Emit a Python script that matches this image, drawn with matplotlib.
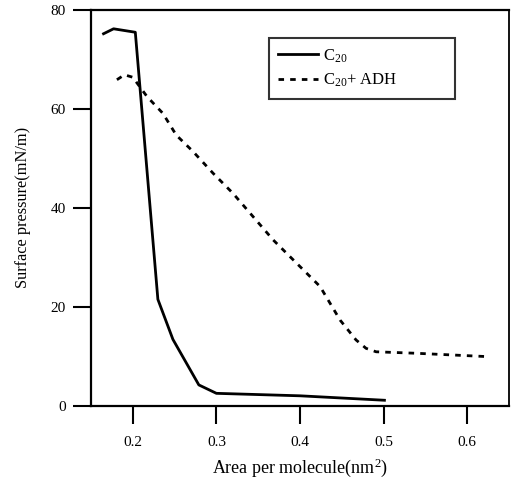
import matplotlib
matplotlib.use("Agg")
import matplotlib.pyplot as plt

plt.rcParams['font.family'] = ['Liberation Serif', 'DejaVu Serif']
plt.rcParams['mathtext.fontset'] = 'custom'
plt.rcParams['mathtext.rm'] = 'Liberation Serif'
plt.rcParams['mathtext.it'] = 'Liberation Serif:italic'

# Data
c20_x = [0.165, 0.177, 0.203, 0.230, 0.248, 0.279, 0.300, 0.400, 0.501]
c20_y = [75.2, 76.2, 75.5, 21.5, 13.4, 4.2, 2.5, 2.0, 1.1]

adh_x = [0.181, 0.190, 0.200, 0.217, 0.236, 0.252, 0.272, 0.296, 0.320, 0.344,
         0.368, 0.396, 0.424, 0.436, 0.448, 0.467, 0.479, 0.491, 0.539, 0.627]
adh_y = [65.9, 66.9, 66.4, 62.5, 59.1, 54.7, 51.4, 47.0, 42.9, 38.2,
         33.5, 28.8, 24.1, 20.7, 17.3, 13.3, 11.6, 10.9, 10.6, 9.9]

xticks = [0.2, 0.3, 0.4, 0.5, 0.6]
yticks = [0, 20, 40, 60, 80]

fig = plt.figure(figsize=(5.12, 4.83), dpi=100)
ax = fig.add_axes([91/512, 1 - 405.7/483, (509 - 91)/512, (405.7 - 10)/483])

ax.plot(c20_x, c20_y, color='black', lw=2.0, label='C$_{20}$')
ax.plot(adh_x, adh_y, color='black', lw=2.0, linestyle=(0, (2, 2.2)),
        label='C$_{20}$+ ADH')

ax.set_xlim(0.15, 0.65)
ax.set_ylim(0, 80)
ax.set_xticks(xticks)
ax.set_xticklabels([f'{t:.1f}' for t in xticks])
ax.set_yticks(yticks)
ax.set_yticklabels([str(t) for t in yticks])

ax.tick_params(axis='both', direction='out', length=13, width=1.5,
               labelsize=11, colors='black')
ax.tick_params(axis='x', pad=9)
ax.tick_params(axis='y', pad=5)

for side in ['left', 'top', 'bottom']:
    ax.spines[side].set_linewidth(1.6)
ax.spines['right'].set_linewidth(1.3)

ax.set_xlabel('Area per molecule(nm$^{2}$)', fontsize=13, labelpad=5)
ax.set_ylabel('Surface pressure(mN/m)', fontsize=11.8, labelpad=14)

leg = ax.legend(loc='upper left', bbox_to_anchor=(0.4258, 0.5, 0.445, 0.4292),
                mode='expand', fontsize=12, frameon=True, fancybox=False,
                borderpad=0.55, handlelength=2.4, handletextpad=0.3,
                labelspacing=0.45, borderaxespad=0)
leg.get_frame().set_edgecolor('black')
leg.get_frame().set_linewidth(1.5)

fig.savefig('out.png', dpi=100)
